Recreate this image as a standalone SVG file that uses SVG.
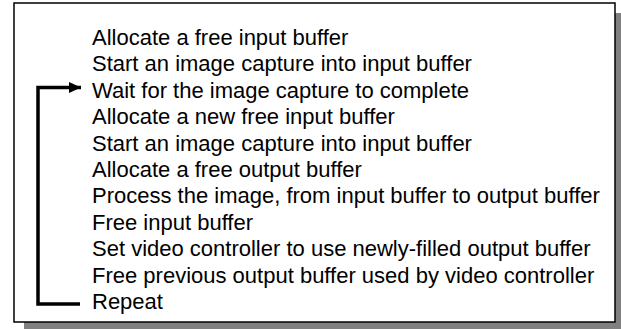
<svg xmlns="http://www.w3.org/2000/svg" width="621" height="329" viewBox="0 0 621 329">
<defs>
<style>
.t{font-family:"Liberation Sans",Arial,sans-serif;font-size:22px;fill:#000}
.c{fill:none;stroke:#000;stroke-width:3.5}
</style>
<marker id="ah" markerWidth="13" markerHeight="12" refX="12" refY="6" orient="auto" markerUnits="userSpaceOnUse">
<path d="M0,0.5 L12,6 L0,11.5 Z" fill="#000"/>
</marker>
</defs>
<rect width="621" height="329" fill="#fff"/>
<g id="box">
<rect x="24" y="13" width="601" height="319" fill="#808080"/>
<rect x="14" y="3" width="601" height="319" fill="#fff" stroke="#000" stroke-width="1.5"/>
</g>
<g id="steps">
<text class="t" x="92" y="45">Allocate a free input buffer</text>
<text class="t" x="92" y="71.4">Start an image capture into input buffer</text>
<text class="t" x="92" y="97.8">Wait for the image capture to complete</text>
<text class="t" x="92" y="124.2">Allocate a new free input buffer</text>
<text class="t" x="92" y="150.6">Start an image capture into input buffer</text>
<text class="t" x="92" y="177">Allocate a free output buffer</text>
<text class="t" x="92" y="203.4">Process the image, from input buffer to output buffer</text>
<text class="t" x="92" y="229.8">Free input buffer</text>
<text class="t" x="92" y="256.2">Set video controller to use newly-filled output buffer</text>
<text class="t" x="92" y="282.6">Free previous output buffer used by video controller</text>
<text class="t" x="92" y="309">Repeat</text>
</g>
<g id="connectors">
<path class="c" d="M80,304 H38 V87.5 H81" marker-end="url(#ah)"/>
</g>
</svg>
